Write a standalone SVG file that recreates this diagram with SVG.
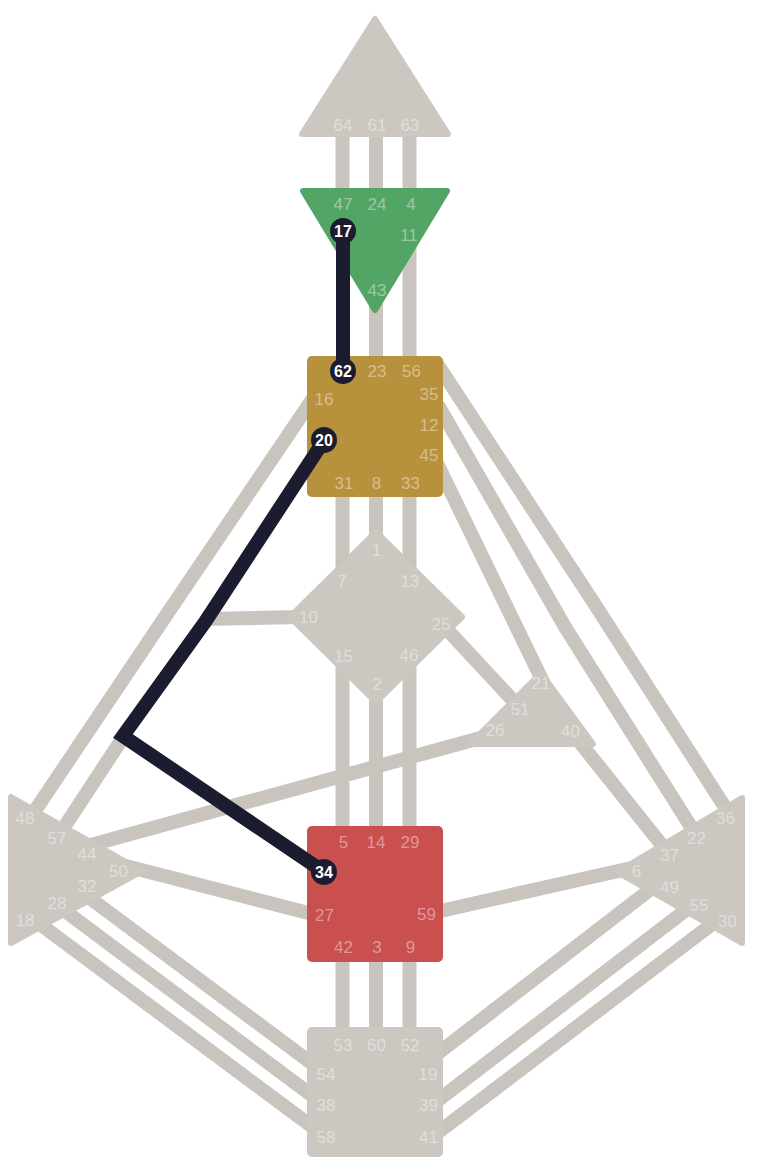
<svg xmlns="http://www.w3.org/2000/svg" width="760" height="1169" viewBox="0 0 760 1169">
<style>
.ch{fill:none;stroke:#c9c4be;stroke-width:14;stroke-linejoin:miter}
.act{fill:none;stroke:#1c1c30;stroke-width:14;stroke-linejoin:miter}
.cen{fill:#cdc7c1;stroke:#cdc7c1;stroke-width:6;stroke-linejoin:round}
.lb{font-family:"Liberation Sans",Arial,sans-serif;font-size:17px;fill:#ffffff;fill-opacity:0.42;text-anchor:middle}
.gt{fill:#1c1c30}
.gtx{font-family:"Liberation Sans",Arial,sans-serif;font-size:16px;font-weight:bold;fill:#ffffff;text-anchor:middle}
</style>
<rect width="760" height="1169" fill="#ffffff"/>
<g id="connectors">
  <line class="ch" x1="342.5" y1="125" x2="342.5" y2="205"/>
  <line class="ch" x1="376" y1="125" x2="376" y2="205"/>
  <line class="ch" x1="409.5" y1="125" x2="409.5" y2="205"/>
  <line class="ch" x1="376" y1="290" x2="376" y2="372"/>
  <line class="ch" x1="409.5" y1="234" x2="409.5" y2="372"/>
  <line class="ch" x1="342.5" y1="483" x2="342.5" y2="581"/>
  <line class="ch" x1="376" y1="483" x2="376" y2="549"/>
  <line class="ch" x1="409.5" y1="483" x2="409.5" y2="581"/>
  <line class="ch" x1="342.5" y1="655" x2="342.5" y2="841"/>
  <line class="ch" x1="376" y1="683" x2="376" y2="841"/>
  <line class="ch" x1="409.5" y1="655" x2="409.5" y2="841"/>
  <line class="ch" x1="342.5" y1="946" x2="342.5" y2="1045"/>
  <line class="ch" x1="376" y1="946" x2="376" y2="1045"/>
  <line class="ch" x1="409.5" y1="946" x2="409.5" y2="1045"/>
  <polyline class="ch" points="320,388 163,620 22,830"/>
  <polyline class="ch" points="124,736 57,838"/>
  <line class="ch" x1="203" y1="619" x2="300" y2="617"/>
  <polyline class="ch" points="436,362 592,600 730,815"/>
  <polyline class="ch" points="438,405 565,627 698,838"/>
  <line class="ch" x1="433" y1="455" x2="547" y2="690"/>
  <line class="ch" x1="441" y1="623" x2="520" y2="708"/>
  <line class="ch" x1="570" y1="730" x2="669" y2="854"/>
  <line class="ch" x1="495" y1="734" x2="87" y2="846"/>
  <line class="ch" x1="118" y1="864" x2="324" y2="917"/>
  <line class="ch" x1="427" y1="914" x2="636" y2="867"/>
  <line class="ch" x1="326" y1="1074" x2="87" y2="896"/>
  <line class="ch" x1="326" y1="1106" x2="57" y2="905"/>
  <line class="ch" x1="326" y1="1137" x2="25" y2="913"/>
  <line class="ch" x1="428" y1="1061" x2="669" y2="875"/>
  <line class="ch" x1="428" y1="1108" x2="699" y2="900"/>
  <line class="ch" x1="428" y1="1140" x2="728" y2="912"/>
</g>
<g id="head">
  <polygon class="cen" points="375,19 302,134 448,134"/>
  <text class="lb" x="343" y="131">64</text>
  <text class="lb" x="377" y="131">61</text>
  <text class="lb" x="410" y="131">63</text>
</g>
<g id="ajna">
  <polygon points="303,191 447,191 375,310" fill="#53a565" stroke="#53a565" stroke-width="6" stroke-linejoin="round"/>
  <text class="lb" x="343" y="210">47</text>
  <text class="lb" x="377" y="210">24</text>
  <text class="lb" x="411" y="210">4</text>
  <text class="lb" x="409" y="240.5">11</text>
  <text class="lb" x="377" y="296">43</text>
</g>
<g id="throat">
  <rect x="307" y="356" width="136" height="141" rx="5" fill="#b8913c"/>
  <text class="lb" x="377" y="377">23</text>
  <text class="lb" x="411.5" y="377">56</text>
  <text class="lb" x="324" y="405">16</text>
  <text class="lb" x="429" y="400">35</text>
  <text class="lb" x="429" y="430.5">12</text>
  <text class="lb" x="429" y="461">45</text>
  <text class="lb" x="344" y="489">31</text>
  <text class="lb" x="376.5" y="489">8</text>
  <text class="lb" x="410.5" y="489">33</text>
</g>
<g id="g-center">
  <polygon class="cen" points="376,532 462,617 376,702 290,617"/>
  <text class="lb" x="376.5" y="555.5">1</text>
  <text class="lb" x="342" y="587">7</text>
  <text class="lb" x="410" y="587">13</text>
  <text class="lb" x="308.5" y="623">10</text>
  <text class="lb" x="441" y="629.5">25</text>
  <text class="lb" x="343.5" y="661.5">15</text>
  <text class="lb" x="409" y="661">46</text>
  <text class="lb" x="377" y="689.5">2</text>
</g>
<g id="heart">
  <polygon class="cen" points="541,673 470,744 593,744"/>
  <text class="lb" x="541" y="688.5">21</text>
  <text class="lb" x="520" y="714.5">51</text>
  <text class="lb" x="495" y="736">26</text>
  <text class="lb" x="570.5" y="736.5">40</text>
</g>
<g id="spleen">
  <polygon class="cen" points="11,797 11,943 142,871"/>
  <text class="lb" x="25" y="824">48</text>
  <text class="lb" x="57" y="844">57</text>
  <text class="lb" x="87" y="859.5">44</text>
  <text class="lb" x="118.5" y="877">50</text>
  <text class="lb" x="87" y="892">32</text>
  <text class="lb" x="57" y="909">28</text>
  <text class="lb" x="25" y="925.5">18</text>
</g>
<g id="solar-plexus">
  <polygon class="cen" points="742,798 742,943 617,872"/>
  <text class="lb" x="725.5" y="824">36</text>
  <text class="lb" x="696.5" y="844">22</text>
  <text class="lb" x="669.5" y="860.5">37</text>
  <text class="lb" x="636.5" y="877">6</text>
  <text class="lb" x="669.5" y="893">49</text>
  <text class="lb" x="699" y="910.5">55</text>
  <text class="lb" x="727.5" y="926.5">30</text>
</g>
<g id="sacral">
  <rect x="307" y="826" width="136" height="136" rx="5" fill="#c9504f"/>
  <text class="lb" x="343.5" y="847.5">5</text>
  <text class="lb" x="376" y="847.5">14</text>
  <text class="lb" x="410" y="847.5">29</text>
  <text class="lb" x="324.5" y="920.5">27</text>
  <text class="lb" x="426.5" y="920">59</text>
  <text class="lb" x="343.5" y="952.5">42</text>
  <text class="lb" x="377" y="952.5">3</text>
  <text class="lb" x="410.5" y="952.5">9</text>
</g>
<g id="root">
  <rect x="307" y="1027" width="136" height="130" rx="5" fill="#cdc7c1"/>
  <text class="lb" x="343" y="1051">53</text>
  <text class="lb" x="376.5" y="1051">60</text>
  <text class="lb" x="410" y="1051">52</text>
  <text class="lb" x="326" y="1079.5">54</text>
  <text class="lb" x="428" y="1079.5">19</text>
  <text class="lb" x="326" y="1111">38</text>
  <text class="lb" x="428.5" y="1111">39</text>
  <text class="lb" x="326" y="1142.5">58</text>
  <text class="lb" x="428.5" y="1142.5">41</text>
</g>
<g id="active-connectors">
  <line class="act" x1="343" y1="231" x2="343" y2="372"/>
  <polyline class="act" points="321,445 205,622 123,736 324,872"/>
</g>
<g id="active-gates">
  <circle class="gt" cx="343" cy="231" r="13"/>
  <text class="gtx" x="343" y="236.7">17</text>
  <circle class="gt" cx="343" cy="371" r="13"/>
  <text class="gtx" x="343" y="376.7">62</text>
  <circle class="gt" cx="324" cy="440" r="13"/>
  <text class="gtx" x="324" y="445.7">20</text>
  <circle class="gt" cx="324" cy="872" r="13"/>
  <text class="gtx" x="324" y="877.7">34</text>
</g>
</svg>
